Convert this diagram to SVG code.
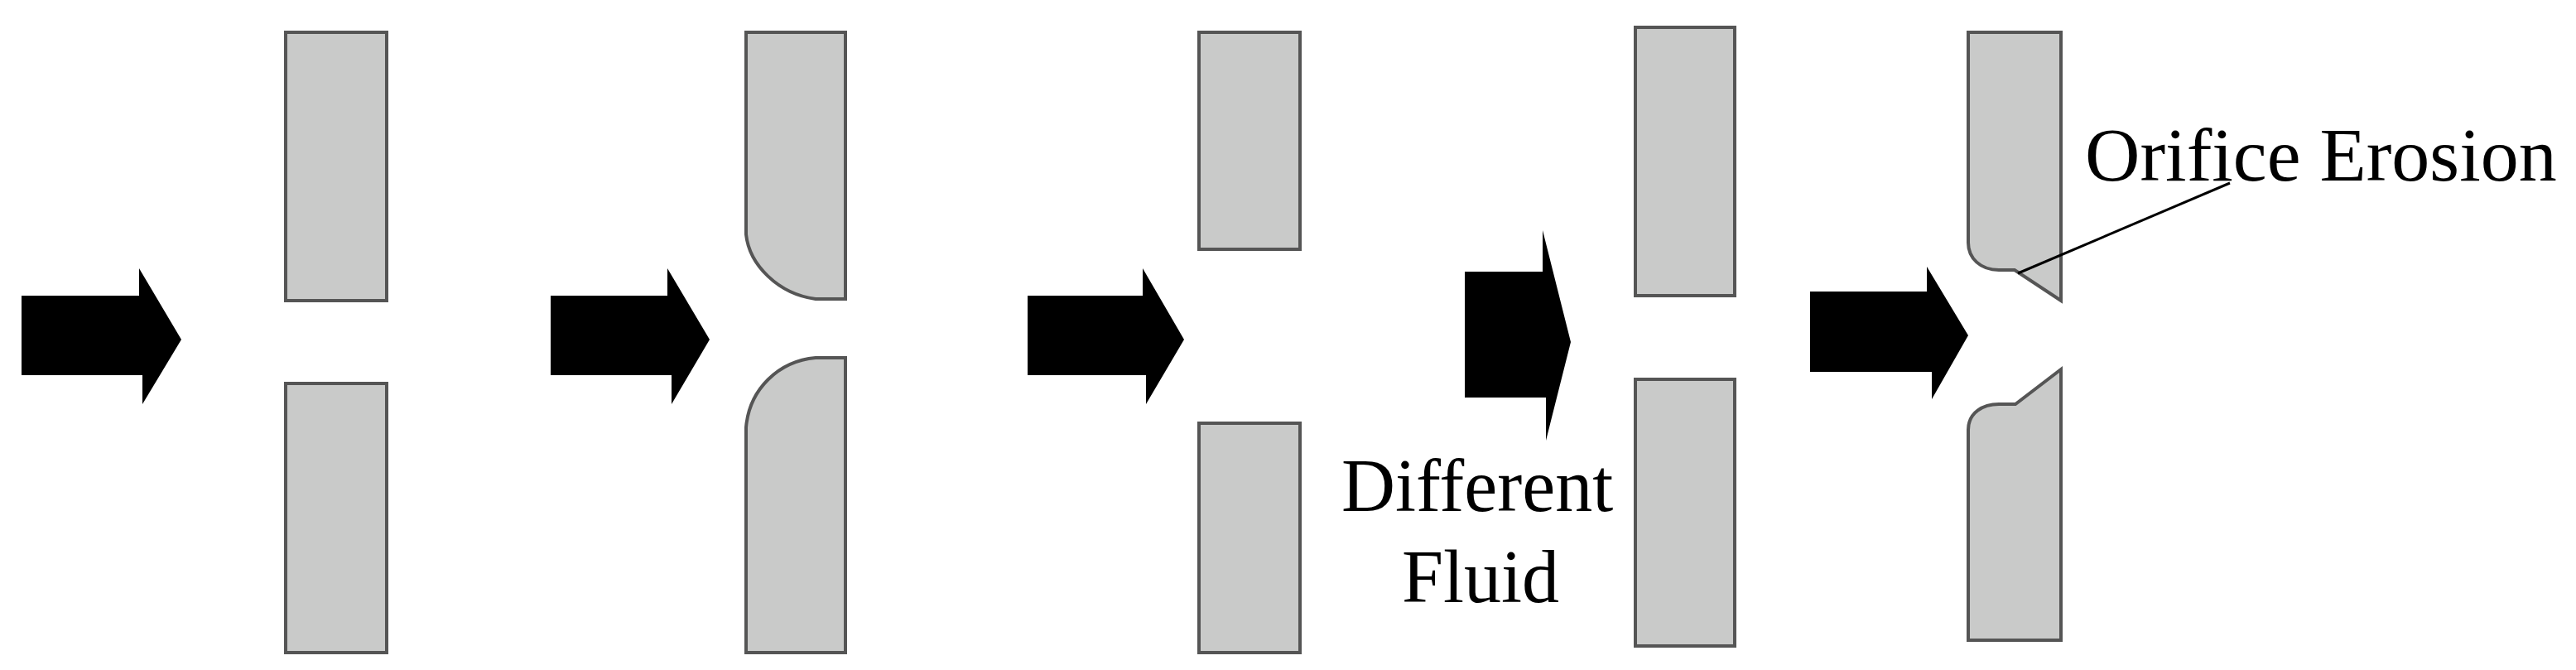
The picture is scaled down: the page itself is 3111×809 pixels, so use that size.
<svg xmlns="http://www.w3.org/2000/svg" width="3111" height="809" viewBox="0 0 3111 809">
<style>
.p{fill:#c9cac9;stroke:#555;stroke-width:4}
.a{fill:#000}
.t{font-family:"Liberation Serif",serif;font-size:90px;fill:#000}
</style>
<rect width="3111" height="809" fill="#fff"/>
<g id="stage1">
<polygon class="a" points="26,357 168,357 168,324 219,410 172,488 172,453 26,453"/>
<rect class="p" x="345" y="39" width="122" height="324"/>
<rect class="p" x="345" y="463" width="122" height="325"/>
</g>
<g id="stage2">
<polygon class="a" points="665,357 806,357 806,324 857,410 811,488 811,453 665,453"/>
<path class="p" d="M901,39 H1021 V361 H985 C940,355 905,320 901,283 Z"/>
<path class="p" d="M1021,432 V788 H901 V516 C905,470 940,436 985,432 Z"/>
</g>
<g id="stage3">
<polygon class="a" points="1241,357 1380,357 1380,324 1430,410 1384,488 1384,453 1241,453"/>
<rect class="p" x="1448" y="39" width="122" height="262"/>
<rect class="p" x="1448" y="511" width="122" height="277"/>
</g>
<g id="stage4">
<polygon class="a" points="1769,328 1863,328 1863,278 1897,413 1867,532 1867,480 1769,480"/>
<rect class="p" x="1975" y="33" width="120" height="324"/>
<rect class="p" x="1975" y="458" width="120" height="322"/>
<text class="t" x="1620" y="617">Different</text>
<text class="t" x="1693" y="727">Fluid</text>
</g>
<g id="stage5">
<polygon class="a" points="2186,352 2327,352 2327,322 2377,405 2333,482 2333,449 2186,449"/>
<path class="p" d="M2377,39 H2489 V363 L2433,326 H2414 C2392,326 2377,312 2377,293 Z"/>
<path class="p" d="M2489,446 V773 H2377 V519 C2377,498 2395,488 2414,488 H2434 Z"/>
<text class="t" x="2518" y="218" style="font-size:92px">Orifice Erosion</text>
</g>
<g id="connectors">
<line x1="2693" y1="221" x2="2437" y2="330" stroke="#000" stroke-width="3"/>
</g>
</svg>
